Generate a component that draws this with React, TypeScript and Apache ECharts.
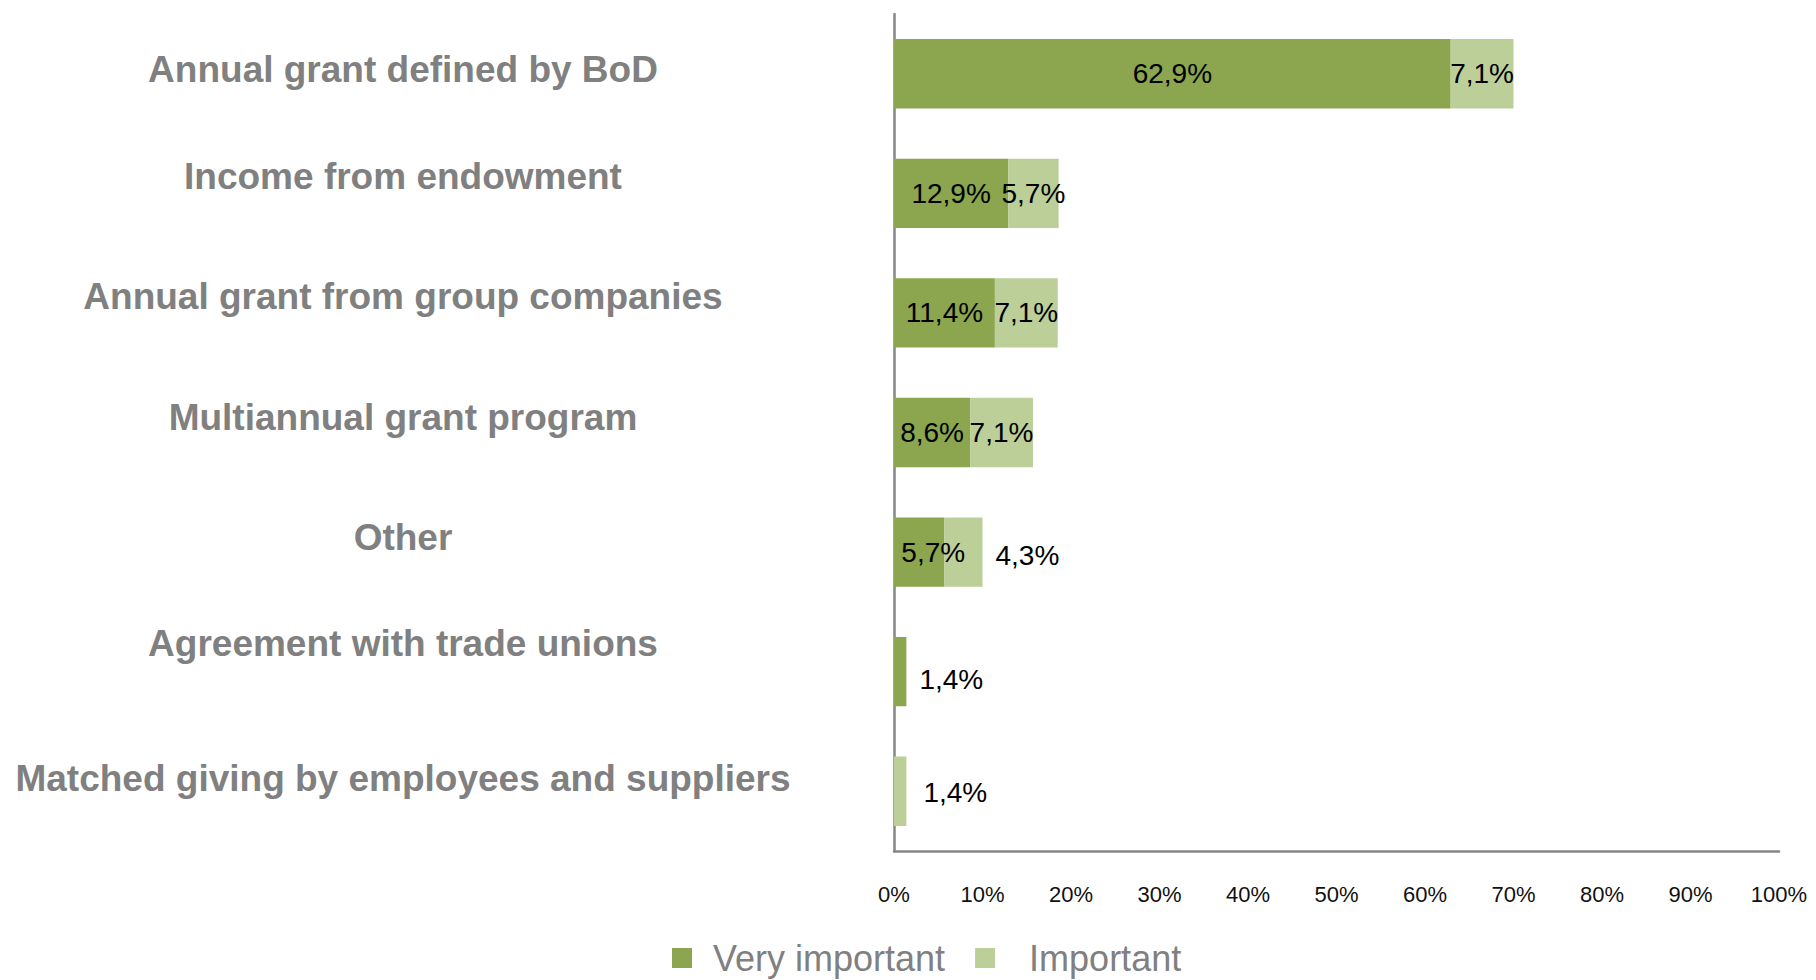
import React, { useEffect, useRef } from "react";
import * as echarts from "echarts";

const categories = [
  "Annual grant defined by BoD",
  "Income from endowment",
  "Annual grant from group companies",
  "Multiannual grant program",
  "Other",
  "Agreement with trade unions",
  "Matched giving by employees and suppliers",
];
const veryImportant: (number | null)[] = [62.9, 12.9, 11.4, 8.6, 5.7, 1.4, null];
const important: (number | null)[] = [7.1, 5.7, 7.1, 7.1, 4.3, null, 1.4];
const seriesNames = ["Very important", "Important"];
// vertical shift of each category label (px, negative = up)
const labelShift = [-4, -17, -16, -15, -15, -28, -13];
// per-item value-label tweaks: "series-index" -> settings
const labelTweaks: Record<string, any> = {
  "0-4": { offset: [14, 0] },
  "0-5": { position: "right", distance: 13, offset: [0, 8] },
  "1-4": { position: "right", distance: 13, offset: [0, 3] },
  "1-6": { position: "right", distance: 17, offset: [0, 1] },
};

const DARK = "#8ba64e";
const LIGHT = "#bccf99";

const fmt = (v: number) => v.toFixed(1).replace(".", ",") + "%";

function buildData(vals: (number | null)[], s: number) {
  return vals.map((v, i) => {
    if (v === null) return "-";
    const t = labelTweaks[`${s}-${i}`];
    if (t) return { value: v, label: t };
    return v;
  });
}

export default function App() {
  const ref = useRef<HTMLDivElement>(null);
  useEffect(() => {
    document.body.style.margin = "0";
    document.body.style.overflow = "hidden";
    const chart = echarts.init(ref.current!, null, { renderer: "svg" });
    const rich: Record<string, any> = {};
    labelShift.forEach((d, i) => {
      const p = Math.abs(d) * 2;
      rich["l" + i] = {
        fontFamily: "Liberation Sans",
        fontWeight: "bold",
        fontSize: 37,
        color: "#808080",
        padding: d < 0 ? [0, 0, p, 0] : [p, 0, 0, 0],
      };
    });
    const labelStyle = {
      show: true,
      position: "inside",
      color: "#000",
      fontFamily: "Liberation Sans",
      fontSize: 28,
      formatter: (p: any) => fmt(p.value),
    };
    chart.setOption({
      animation: false,
      grid: { left: 894, right: 37, top: 14, bottom: 129, containLabel: false },
      legend: {
        left: 667,
        top: 935,
        itemWidth: 20,
        itemHeight: 20,
        itemGap: 30,
        icon: "rect",
        textStyle: {
          fontFamily: "Liberation Sans",
          fontSize: 36,
          lineHeight: 36,
          color: "#808080",
          padding: [0, 0, 0, 16],
        },
        data: [
          { name: seriesNames[0] },
          { name: seriesNames[1], textStyle: { padding: [0, 0, 0, 29] } },
        ],
      },
      xAxis: {
        type: "value",
        min: 0,
        max: 100,
        interval: 10,
        axisLine: { show: true, lineStyle: { color: "#868686", width: 2.5 } },
        axisTick: { show: false },
        splitLine: { show: false },
        axisLabel: {
          margin: 32,
          fontFamily: "Liberation Sans",
          fontSize: 22,
          color: "#111",
          formatter: "{value}%",
        },
      },
      yAxis: {
        type: "category",
        inverse: true,
        data: categories,
        axisLine: { show: true, lineStyle: { color: "#868686", width: 2.5 } },
        axisTick: { show: false },
        axisLabel: {
          margin: 491,
          align: "center",
          formatter: (v: string, i: number) => `{l${i}|${v}}`,
          rich,
        },
      },
      series: [
        {
          name: seriesNames[0],
          type: "bar",
          stack: "total",
          barCategoryGap: "42%",
          itemStyle: { color: DARK },
          label: labelStyle,
          data: buildData(veryImportant, 0),
        },
        {
          name: seriesNames[1],
          type: "bar",
          stack: "total",
          barCategoryGap: "42%",
          itemStyle: { color: LIGHT },
          label: labelStyle,
          data: buildData(important, 1),
        },
      ],
    });
    return () => chart.dispose();
  }, []);
  return <div ref={ref} style={{ width: 1816, height: 980 }} />;
}
